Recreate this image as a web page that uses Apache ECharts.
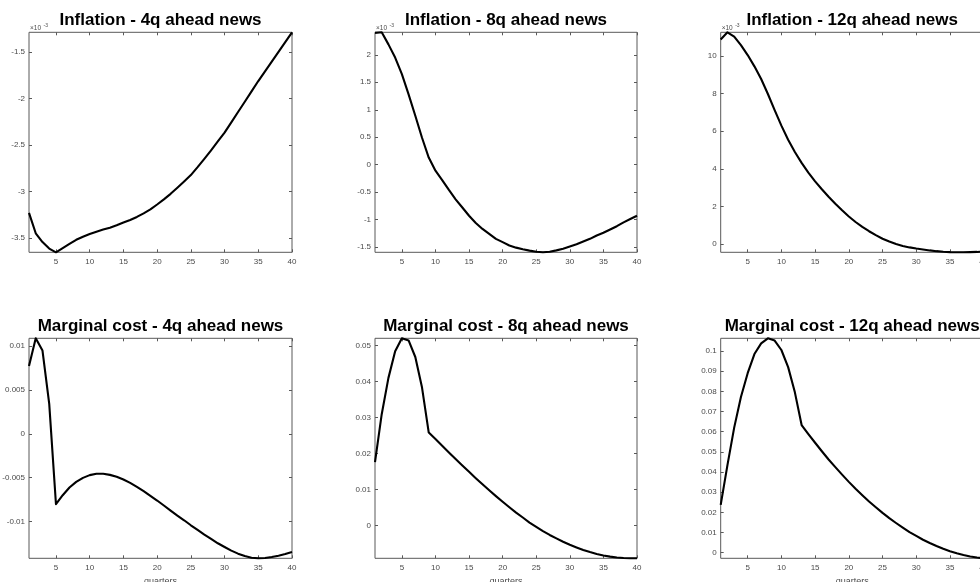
<!DOCTYPE html>
<html>
<head>
<meta charset="utf-8">
<script src="https://cdn.jsdelivr.net/npm/echarts@6/dist/echarts.min.js"></script>
<style>
html,body{margin:0;padding:0;background:#fff;}
#chart{width:980px;height:582px;}
</style>
</head>
<body>
<div id="chart"></div>
<script>
// ---------- data ----------
const quarters = [1,2,3,4,5,6,7,8,9,10,11,12,13,14,15,16,17,18,19,20,21,22,23,24,25,26,27,28,29,30,31,32,33,34,35,36,37,38,39,40];
const xTickValues = [5,10,15,20,25,30,35,40];

const titles = [
  'Inflation - 4q ahead news', 'Inflation - 8q ahead news', 'Inflation - 12q ahead news',
  'Marginal cost - 4q ahead news', 'Marginal cost - 8q ahead news', 'Marginal cost - 12q ahead news'
];

// Inflation responses, in units of 10^-3 (as labelled on the axes)
const inflation4q = [-3.23,-3.45,-3.545,-3.615,-3.655,-3.61,-3.565,-3.52,-3.487,-3.458,-3.433,-3.41,-3.39,-3.364,-3.335,-3.307,-3.274,-3.235,-3.192,-3.14,-3.085,-3.025,-2.96,-2.893,-2.823,-2.738,-2.649,-2.556,-2.461,-2.365,-2.255,-2.144,-2.033,-1.921,-1.81,-1.705,-1.60,-1.495,-1.39,-1.285];
const inflation8q = [2.40,2.41,2.19,1.95,1.65,1.28,0.89,0.49,0.13,-0.11,-0.28,-0.46,-0.63,-0.78,-0.93,-1.06,-1.17,-1.26,-1.35,-1.41,-1.47,-1.51,-1.54,-1.565,-1.585,-1.595,-1.585,-1.56,-1.53,-1.49,-1.45,-1.40,-1.35,-1.29,-1.24,-1.18,-1.12,-1.05,-0.99,-0.93];
const inflation12q = [10.88,11.26,11.03,10.58,10.05,9.45,8.78,7.98,7.12,6.30,5.55,4.90,4.32,3.80,3.34,2.92,2.52,2.15,1.80,1.47,1.18,0.92,0.69,0.48,0.29,0.14,0.01,-0.09,-0.17,-0.23,-0.28,-0.33,-0.37,-0.40,-0.42,-0.43,-0.43,-0.42,-0.41,-0.39];

// Marginal cost responses
const marginalCost4q = [0.00772,0.01087,0.00947,0.0034,-0.00802,-0.00700,-0.00612,-0.00548,-0.00502,-0.00471,-0.00456,-0.00456,-0.00468,-0.00490,-0.00521,-0.00559,-0.00605,-0.00654,-0.00707,-0.00760,-0.00817,-0.00875,-0.00932,-0.00985,-0.01042,-0.01095,-0.01148,-0.01198,-0.01247,-0.01289,-0.01331,-0.01365,-0.01392,-0.01411,-0.01418,-0.01414,-0.01403,-0.01388,-0.01369,-0.01346];
const marginalCost8q = [0.0176,0.0309,0.0410,0.0484,0.0520,0.0514,0.0468,0.0383,0.0258,0.02401,0.02215,0.02029,0.01847,0.01666,0.01489,0.01312,0.01141,0.00974,0.00812,0.00655,0.00503,0.00356,0.00219,0.00077,-0.00043,-0.00159,-0.00266,-0.00363,-0.00456,-0.00539,-0.00613,-0.00683,-0.00743,-0.00794,-0.00836,-0.00868,-0.00891,-0.00905,-0.00912,-0.00915];
const marginalCost12q = [0.0237,0.0434,0.0620,0.0772,0.0890,0.0985,0.1038,0.1063,0.1052,0.1005,0.0920,0.0795,0.0633,0.0588,0.0545,0.0503,0.0462,0.0424,0.0387,0.0351,0.0317,0.0285,0.0254,0.0225,0.0197,0.0171,0.0147,0.0124,0.0102,0.0083,0.0064,0.0048,0.0033,0.0019,0.0007,-0.0003,-0.0012,-0.0019,-0.0024,-0.0028];

// y tick labels
const yTicksInf4 = [-3.5,-3,-2.5,-2,-1.5];
const yTicksInf8 = [-1.5,-1,-0.5,0,0.5,1,1.5,2];
const yTicksInf12 = [0,2,4,6,8,10];
const yTicksMc4 = [-0.01,-0.005,0,0.005,0.01];
const yTicksMc8 = [0,0.01,0.02,0.03,0.04,0.05];
const yTicksMc12 = [0,0.01,0.02,0.03,0.04,0.05,0.06,0.07,0.08,0.09,0.1];

const xAxisName = 'quarters';
const exponentText = '×10';
const exponentSup = '-3';

// ---------- layout ----------
const colLeft = [29, 375, 720.7];
const colWidth = [263, 262, 263];
const rowTop = [32.3, 338.3];
const plotHeight = 220;
const FONT = '"Liberation Sans", Arial, Helvetica, sans-serif';
const AXIS_COLOR = '#595959';
const LABEL_COLOR = '#4a4a4a';

const panels = [
  {data: inflation4q, ticks: yTicksInf4, exp: true},
  {data: inflation8q, ticks: yTicksInf8, exp: true},
  {data: inflation12q, ticks: yTicksInf12, exp: true},
  {data: marginalCost4q, ticks: yTicksMc4, exp: false},
  {data: marginalCost8q, ticks: yTicksMc8, exp: false},
  {data: marginalCost12q, ticks: yTicksMc12, exp: false}
];

const fmt = v => String(+(+v).toFixed(6));

const option = {
  animation: false,
  backgroundColor: '#fff',
  title: [], grid: [], xAxis: [], yAxis: [], series: [], graphic: []
};

panels.forEach((p, i) => {
  const col = i % 3, row = Math.floor(i / 3);
  const left = colLeft[col], top = rowTop[row], width = colWidth[col];
  const ymin = Math.min(...p.data), ymax = Math.max(...p.data);

  option.title.push({
    text: titles[i],
    left: left + width / 2,
    top: top - 20.8,
    textAlign: 'center',
    padding: 0,
    textStyle: {fontSize: 17, fontWeight: 'bold', color: '#000', fontFamily: FONT}
  });

  option.grid.push({
    left: left, top: top, width: width, height: plotHeight,
    show: true, borderColor: AXIS_COLOR, borderWidth: 1, backgroundColor: '#fff',
    containLabel: false, outerBoundsMode: 'none'
  });

  const tickStyle = {inside: true, length: 3, lineStyle: {color: AXIS_COLOR, width: 1}};
  const hiddenLine = {show: false, onZero: false};

  option.xAxis.push({
    type: 'value', gridIndex: i, min: 1, max: 40, position: 'bottom',
    axisLine: hiddenLine, splitLine: {show: false},
    axisTick: Object.assign({customValues: xTickValues}, tickStyle),
    axisLabel: {customValues: xTickValues, fontSize: 8, color: LABEL_COLOR, margin: 5, fontFamily: FONT, formatter: fmt},
    name: row === 1 ? xAxisName : '', nameLocation: 'middle', nameGap: 18.5,
    nameTextStyle: {fontSize: 9, color: LABEL_COLOR, fontFamily: FONT}
  });
  option.xAxis.push({
    type: 'value', gridIndex: i, min: 1, max: 40, position: 'top',
    axisLine: hiddenLine, splitLine: {show: false},
    axisTick: Object.assign({customValues: xTickValues}, tickStyle),
    axisLabel: {show: false}
  });
  option.yAxis.push({
    type: 'value', gridIndex: i, min: ymin, max: ymax, position: 'left',
    axisLine: hiddenLine, splitLine: {show: false},
    axisTick: Object.assign({customValues: p.ticks}, tickStyle),
    axisLabel: {customValues: p.ticks, fontSize: 8, color: LABEL_COLOR, margin: 4, fontFamily: FONT, formatter: fmt}
  });
  option.yAxis.push({
    type: 'value', gridIndex: i, min: ymin, max: ymax, position: 'right',
    axisLine: hiddenLine, splitLine: {show: false},
    axisTick: Object.assign({customValues: p.ticks}, tickStyle),
    axisLabel: {show: false}
  });

  option.series.push({
    type: 'line', xAxisIndex: 2 * i, yAxisIndex: 2 * i,
    data: quarters.map((q, k) => [q, p.data[k]]),
    symbol: 'none', clip: false,
    lineStyle: {color: '#000', width: 2.1, join: 'round'}
  });

  if (p.exp) {
    option.graphic.push({
      type: 'text', left: left + 1, top: top - 7.5, silent: true,
      style: {text: exponentText, fontSize: 6.5, fill: LABEL_COLOR, fontFamily: FONT}
    });
    option.graphic.push({
      type: 'text', left: left + 14.5, top: top - 9, silent: true,
      style: {text: exponentSup, fontSize: 5, fill: LABEL_COLOR, fontFamily: FONT}
    });
  }
});

const chart = echarts.init(document.getElementById('chart'), null, {renderer: 'canvas'});
chart.setOption(option);
</script>
</body>
</html>
